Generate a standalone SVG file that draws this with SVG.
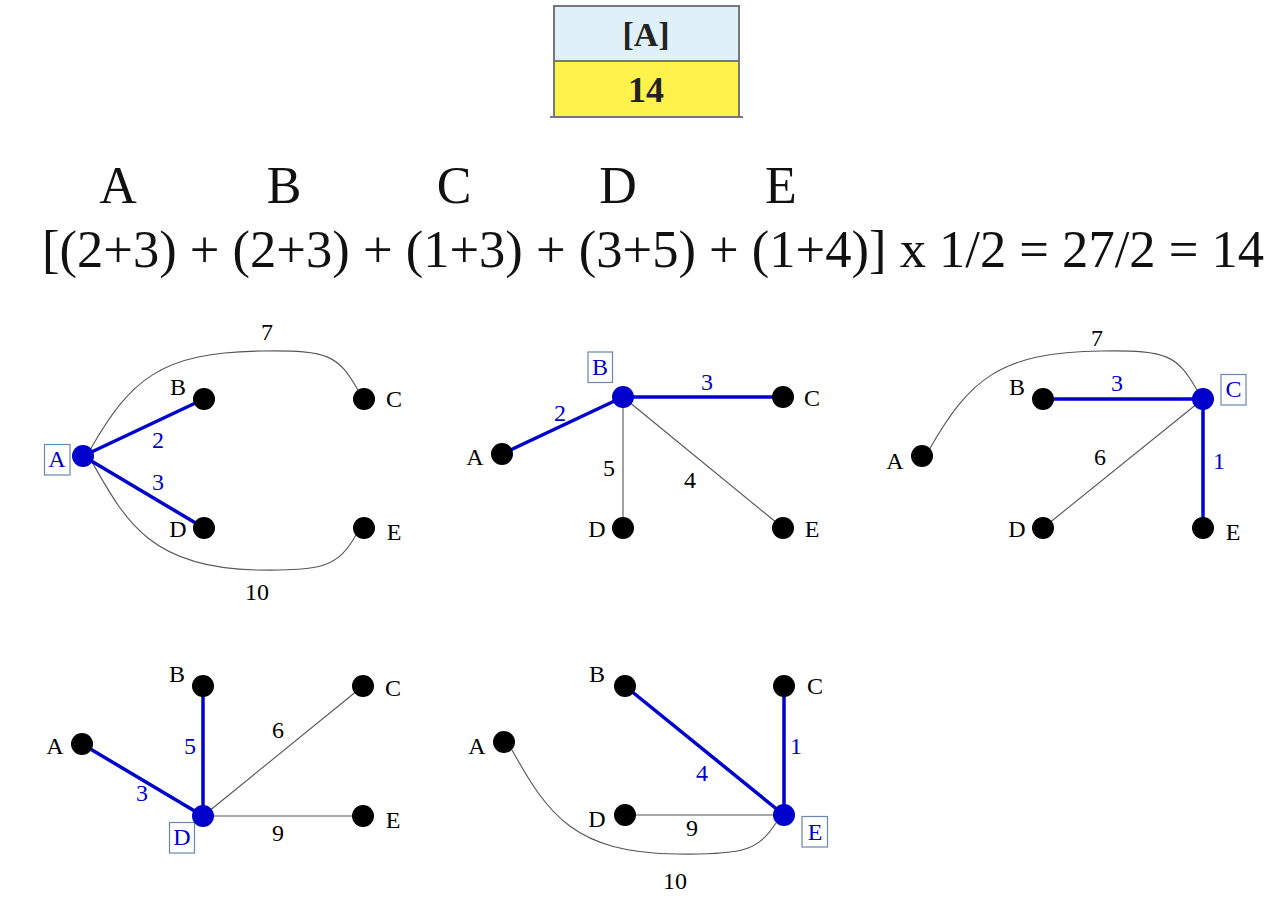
<svg xmlns="http://www.w3.org/2000/svg" width="1286" height="908" viewBox="0 0 1286 908">
<style>
text{font-family:"Liberation Serif","DejaVu Serif",serif}
.lbl{font-size:24px;fill:#000;text-anchor:middle}
.blbl{font-size:24px;fill:#0000cc;text-anchor:middle}
.thin{stroke:#555;stroke-width:1.1;fill:none}
.blue{stroke:#0000cc;stroke-width:3.5;fill:none;stroke-linecap:round}
.n{fill:#000}
.nb{fill:#0000cc}
.box{fill:#fff;stroke:#6a86ad;stroke-width:1.2}
.big{font-size:52px;fill:#111;text-anchor:middle}
</style>
<rect width="1286" height="908" fill="#fff"/>
<g id="result-table">
<rect x="554" y="6" width="185" height="55" fill="#dff0f8" stroke="#777" stroke-width="2"/>
<rect x="554" y="61" width="185" height="56" fill="#fff24a" stroke="#777" stroke-width="2"/>
<line x1="550" y1="117" x2="743" y2="117" stroke="#777" stroke-width="2"/>
<text x="646" y="46" font-size="34" font-weight="bold" text-anchor="middle" fill="#222">[A]</text>
<text x="646" y="102" font-size="36" font-weight="bold" text-anchor="middle" fill="#222">14</text>
</g>
<g id="formula">
<text class="big" x="118" y="203">A</text>
<text class="big" x="284" y="203">B</text>
<text class="big" x="454" y="203">C</text>
<text class="big" x="618" y="203">D</text>
<text class="big" x="781" y="203">E</text>
<text x="42" y="267" font-size="52" fill="#111" textLength="1222" lengthAdjust="spacingAndGlyphs">[(2+3) + (2+3) + (1+3) + (3+5) + (1+4)] x 1/2 = 27/2 = 14</text>
</g>
<g id="connectors">
<!-- graph A -->
<path class="thin" d="M 90,450 C 130,380 160,352 263,351 C 330,350 338,356 358,390"/>
<path class="thin" d="M 92,462 C 125,520 150,568 257,570 C 325,571 338,566 356,535"/>
<line class="blue" x1="83" y1="456" x2="204" y2="399"/>
<line class="blue" x1="83" y1="456" x2="204" y2="528"/>
<text class="lbl" x="267" y="340">7</text>
<text class="lbl" x="257" y="600">10</text>
<text class="blbl" x="158" y="448">2</text>
<text class="blbl" x="158" y="490">3</text>
<!-- graph B -->
<line class="blue" x1="502" y1="454" x2="623" y2="397"/>
<line class="blue" x1="623" y1="397" x2="783" y2="397"/>
<line class="thin" x1="623" y1="397" x2="623" y2="528"/>
<line class="thin" x1="623" y1="397" x2="783" y2="528"/>
<text class="blbl" x="560" y="421">2</text>
<text class="blbl" x="707" y="390">3</text>
<text class="lbl" x="609" y="476">5</text>
<text class="lbl" x="690" y="488">4</text>
<!-- graph C -->
<path class="thin" d="M 929,450 C 969,380 999,352 1102,351 C 1169,350 1177,356 1197,390"/>
<line class="blue" x1="1043" y1="399" x2="1203" y2="399"/>
<line class="blue" x1="1203" y1="399" x2="1203" y2="528"/>
<line class="thin" x1="1203" y1="399" x2="1043" y2="528"/>
<text class="lbl" x="1097" y="346">7</text>
<text class="blbl" x="1117" y="391">3</text>
<text class="lbl" x="1100" y="465">6</text>
<text class="blbl" x="1219" y="469">1</text>
<!-- graph D -->
<line class="blue" x1="82" y1="744" x2="203" y2="816"/>
<line class="blue" x1="203" y1="686" x2="203" y2="816"/>
<line class="thin" x1="203" y1="816" x2="363" y2="686"/>
<line class="thin" x1="203" y1="816" x2="363" y2="816" stroke="#333"/>
<text class="blbl" x="190" y="754">5</text>
<text class="blbl" x="142" y="801">3</text>
<text class="lbl" x="278" y="738">6</text>
<text class="lbl" x="278" y="841">9</text>
<!-- graph E -->
<path class="thin" d="M 512,750 C 548,815 575,853 677,854 C 745,855 758,850 776,823"/>
<line class="blue" x1="625" y1="686" x2="784" y2="815"/>
<line class="blue" x1="784" y1="686" x2="784" y2="815"/>
<line class="thin" x1="625" y1="815" x2="784" y2="815" stroke="#333"/>
<text class="blbl" x="702" y="781">4</text>
<text class="blbl" x="796" y="754">1</text>
<text class="lbl" x="692" y="836">9</text>
<text class="lbl" x="675" y="889">10</text>
</g>
<!-- graph A nodes -->
<g id="g1-A"><rect class="box" x="44.5" y="444.5" width="25.5" height="30.5"/><text class="blbl" x="57" y="467">A</text><circle class="nb" cx="83" cy="456" r="11"/></g>
<g id="g1-B"><circle class="n" cx="204" cy="399" r="11"/><text class="lbl" x="178" y="395">B</text></g>
<g id="g1-C"><circle class="n" cx="364" cy="399" r="11"/><text class="lbl" x="394" y="407">C</text></g>
<g id="g1-D"><circle class="n" cx="204" cy="528" r="11"/><text class="lbl" x="178" y="537">D</text></g>
<g id="g1-E"><circle class="n" cx="364" cy="528" r="11"/><text class="lbl" x="394" y="540">E</text></g>
<!-- graph B nodes -->
<g id="g2-A"><circle class="n" cx="502" cy="454" r="11"/><text class="lbl" x="475" y="465">A</text></g>
<g id="g2-B"><rect class="box" x="588" y="352" width="24.5" height="30.5"/><text class="blbl" x="600" y="375">B</text><circle class="nb" cx="623" cy="397" r="11"/></g>
<g id="g2-C"><circle class="n" cx="783" cy="397" r="11"/><text class="lbl" x="812" y="406">C</text></g>
<g id="g2-D"><circle class="n" cx="623" cy="528" r="11"/><text class="lbl" x="597" y="537">D</text></g>
<g id="g2-E"><circle class="n" cx="783" cy="528" r="11"/><text class="lbl" x="812" y="537">E</text></g>
<!-- graph C nodes -->
<g id="g3-A"><circle class="n" cx="922" cy="456" r="11"/><text class="lbl" x="895" y="469">A</text></g>
<g id="g3-B"><circle class="n" cx="1043" cy="399" r="11"/><text class="lbl" x="1017" y="395">B</text></g>
<g id="g3-C"><rect class="box" x="1221" y="374.5" width="25" height="30.5"/><text class="blbl" x="1233.5" y="397">C</text><circle class="nb" cx="1203" cy="399" r="11"/></g>
<g id="g3-D"><circle class="n" cx="1043" cy="528" r="11"/><text class="lbl" x="1017" y="537">D</text></g>
<g id="g3-E"><circle class="n" cx="1203" cy="528" r="11"/><text class="lbl" x="1233" y="540">E</text></g>
<!-- graph D nodes -->
<g id="g4-A"><circle class="n" cx="82" cy="744" r="11"/><text class="lbl" x="55" y="754">A</text></g>
<g id="g4-B"><circle class="n" cx="203" cy="686" r="11"/><text class="lbl" x="177" y="682">B</text></g>
<g id="g4-C"><circle class="n" cx="363" cy="686" r="11"/><text class="lbl" x="393" y="696">C</text></g>
<g id="g4-D"><rect class="box" x="169.5" y="822.5" width="25" height="30.5"/><text class="blbl" x="182" y="845">D</text><circle class="nb" cx="203" cy="816" r="11"/></g>
<g id="g4-E"><circle class="n" cx="363" cy="816" r="11"/><text class="lbl" x="393" y="828">E</text></g>
<!-- graph E nodes -->
<g id="g5-A"><circle class="n" cx="504" cy="742" r="11"/><text class="lbl" x="477" y="754">A</text></g>
<g id="g5-B"><circle class="n" cx="625" cy="686" r="11"/><text class="lbl" x="597" y="682">B</text></g>
<g id="g5-C"><circle class="n" cx="784" cy="686" r="11"/><text class="lbl" x="815" y="694">C</text></g>
<g id="g5-D"><circle class="n" cx="625" cy="815" r="11"/><text class="lbl" x="597" y="827">D</text></g>
<g id="g5-E"><rect class="box" x="802" y="816.5" width="25.5" height="30.5"/><text class="blbl" x="815" y="840">E</text><circle class="nb" cx="784" cy="815" r="11"/></g>
</svg>
